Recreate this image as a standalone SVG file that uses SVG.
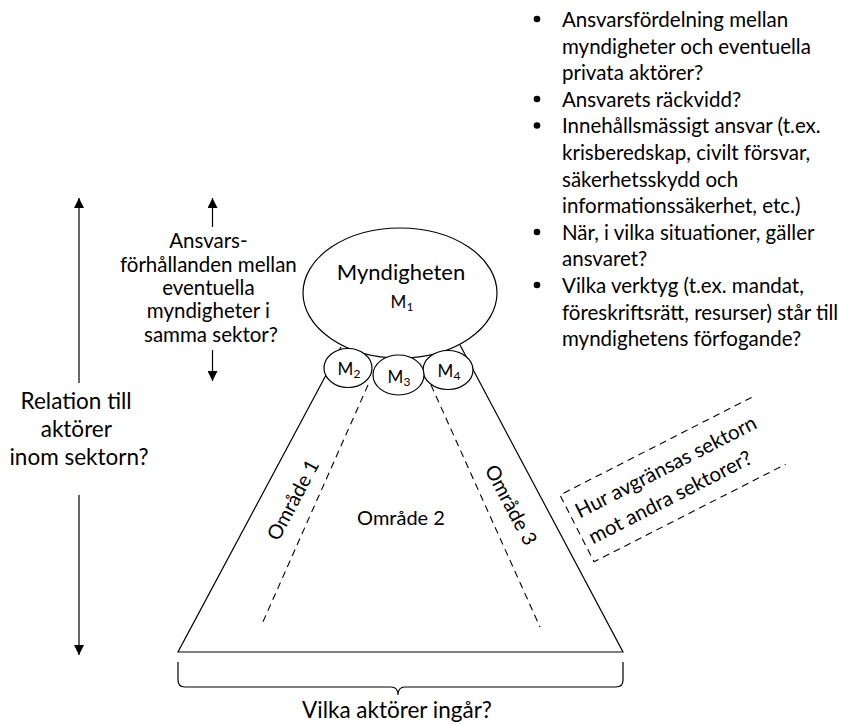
<svg xmlns="http://www.w3.org/2000/svg" width="846" height="724" viewBox="0 0 846 724">
<defs>
<marker id="ah" viewBox="0 0 10 10" refX="10" refY="5" markerWidth="10" markerHeight="10" markerUnits="userSpaceOnUse" orient="auto">
<path d="M0,0 L10,5 L0,10 Z" fill="#000"/>
</marker>
</defs>
<style>
text{font-family:Lato,"Open Sans","Liberation Sans",sans-serif;fill:#000}
.t{font-size:20px}
.b{font-size:20.5px}
.s{font-size:20.5px}
.big{font-size:22.5px}
.my{font-size:22px}
.m{font-size:17px}
.sub{font-size:12px}
.ln{stroke:#000;stroke-width:1.2;fill:none}
.dash{stroke:#000;stroke-width:1.1;fill:none;stroke-dasharray:7 5}
.node{fill:#fff;stroke:#000;stroke-width:1.2}
</style>
<rect width="846" height="724" fill="#fff"/>

<g id="connectors">
<path class="ln" d="M341,347 L178,652 L623,652 L460,345"/>
<path class="dash" d="M368,385 L262,624"/>
<path class="dash" d="M431,385 L540,627"/>
<line class="ln" x1="79" y1="383" x2="79" y2="198" marker-end="url(#ah)"/>
<line class="ln" x1="79" y1="495" x2="79" y2="655" marker-end="url(#ah)"/>
<line class="ln" x1="212.5" y1="227" x2="212.5" y2="198" marker-end="url(#ah)"/>
<line class="ln" x1="212.5" y1="350" x2="212.5" y2="381" marker-end="url(#ah)"/>
<path class="ln" d="M178,662 V680 Q178,687 185,687 H391 Q398,687 398,695 Q398,687 405,687 H616 Q623,687 623,680 V662"/>
</g>

<g id="myndigheten">
<ellipse class="node" cx="400" cy="293" rx="97" ry="65"/>
<text class="my" x="401" y="280" text-anchor="middle">Myndigheten</text>
<text class="m" x="402" y="308" text-anchor="middle">M<tspan class="sub" dy="3">1</tspan></text>
</g>
<g id="m2">
<ellipse class="node" cx="348" cy="368" rx="24" ry="19.5"/>
<text class="m" x="349" y="375" text-anchor="middle">M<tspan class="sub" dy="3">2</tspan></text>
</g>
<g id="m4">
<ellipse class="node" cx="448" cy="370" rx="25" ry="19.5"/>
<text class="m" x="449" y="377" text-anchor="middle">M<tspan class="sub" dy="3">4</tspan></text>
</g>
<g id="m3">
<ellipse class="node" cx="398.5" cy="375" rx="25.5" ry="20"/>
<text class="m" x="399" y="383" text-anchor="middle">M<tspan class="sub" dy="3">3</tspan></text>
</g>

<g id="omraden">
<text class="t" transform="translate(293,500) rotate(-62)" x="0" y="7" text-anchor="middle">Område 1</text>
<text class="t" x="401" y="525" text-anchor="middle">Område 2</text>
<text class="t" transform="translate(511,505) rotate(62)" x="0" y="7" text-anchor="middle">Område 3</text>
</g>

<g id="avgransning" transform="translate(560,495) rotate(-27)">
<path class="dash" d="M215,0 H0 V75 H215"/>
<text class="b" x="7" y="30">Hur avgränsas sektorn</text>
<text class="b" x="7" y="59">mot andra sektorer?</text>
</g>

<g id="ansvarsforhallanden">
<text class="s" text-anchor="middle">
<tspan x="211" y="248.3">Ansvars-</tspan>
<tspan x="211" y="271.6">förhållanden mellan</tspan>
<tspan x="211" y="295">eventuella</tspan>
<tspan x="211" y="318.3">myndigheter i</tspan>
<tspan x="211" y="341.7">samma sektor?</tspan>
</text>
</g>

<g id="relation">
<text class="big" text-anchor="middle">
<tspan x="79" y="409">Relation till</tspan>
<tspan x="79" y="437">aktörer</tspan>
<tspan x="79" y="465">inom sektorn?</tspan>
</text>
</g>

<g id="vilka">
<text class="big" x="397" y="718" text-anchor="middle">Vilka aktörer ingår?</text>
</g>

<g id="fragor">
<circle cx="537" cy="19" r="3.3"/>
<circle cx="537" cy="99" r="3.3"/>
<circle cx="537" cy="125.5" r="3.3"/>
<circle cx="537" cy="232" r="3.3"/>
<circle cx="537" cy="285" r="3.3"/>
<text class="b">
<tspan x="562" y="27">Ansvarsfördelning mellan</tspan>
<tspan x="562" y="53.6">myndigheter och eventuella</tspan>
<tspan x="562" y="80.2">privata aktörer?</tspan>
<tspan x="562" y="106.8">Ansvarets räckvidd?</tspan>
<tspan x="562" y="133.4">Innehållsmässigt ansvar (t.ex.</tspan>
<tspan x="562" y="160">krisberedskap, civilt försvar,</tspan>
<tspan x="562" y="186.6">säkerhetsskydd och</tspan>
<tspan x="562" y="213.2">informationssäkerhet, etc.)</tspan>
<tspan x="562" y="239.8">När, i vilka situationer, gäller</tspan>
<tspan x="562" y="266.4">ansvaret?</tspan>
<tspan x="562" y="293">Vilka verktyg (t.ex. mandat,</tspan>
<tspan x="562" y="319.6">föreskriftsrätt, resurser) står till</tspan>
<tspan x="562" y="346.2">myndighetens förfogande?</tspan>
</text>
</g>
</svg>
